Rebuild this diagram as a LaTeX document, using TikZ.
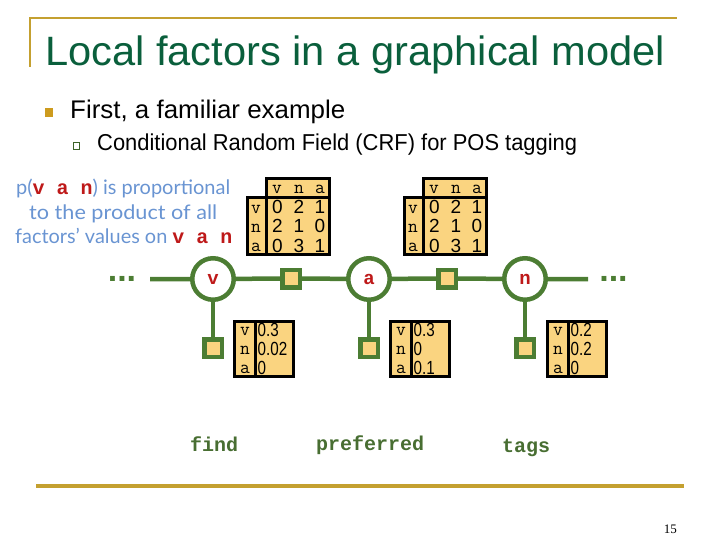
\documentclass[tikz,border=0pt]{standalone}
\usepackage{fontspec}
\usepackage{graphicx}
\setmainfont{Liberation Sans}
\newfontfamily\codefont{Liberation Mono}
\newfontfamily\handfont{Lato}
\newfontfamily\pagefont{Liberation Serif}
\definecolor{titlegreen}{RGB}{10,95,60}
\definecolor{gold}{RGB}{196,160,48}
\definecolor{bulletgold}{RGB}{205,155,30}
\definecolor{chain}{RGB}{76,125,51}
\definecolor{cellfill}{RGB}{250,212,128}
\definecolor{bluetxt}{RGB}{105,148,210}
\definecolor{redvar}{RGB}{190,25,25}
\definecolor{wordgreen}{RGB}{72,110,50}
\newcommand\rv[1]{{\codefont\bfseries\color{redvar}#1}}
\newcommand\pairtab[2]{%
\begin{scope}[shift={(#2,0)}]
\node[tabbox, minimum width=19.5pt, minimum height=56.5pt] (#1col) at (245.5,196.5) {};
\node[tabbox, minimum width=63pt, minimum height=56.5pt] (#1body) at (265,196.5) {};
\node[tabbox, minimum width=63pt, minimum height=19.5pt] (#1hdr) at (265,177) {};
\node[lab] (#1hv) at (277,194) {v};
\node[lab] (#1hn) at (299,194) {n};
\node[lab] (#1ha) at (320,194) {a};
\node[lab] (#1rv) at (256,213.5) {v};
\node[lab] (#1rn) at (256,232.5) {n};
\node[lab] (#1ra) at (256,251.5) {a};
\node[num] (#1c11) at (277.5,214) {0};
\node[num] (#1c12) at (299,214) {2};
\node[num] (#1c13) at (320,214) {1};
\node[num] (#1c21) at (277.5,233) {2};
\node[num] (#1c22) at (299,233) {1};
\node[num] (#1c23) at (320,233) {0};
\node[num] (#1c31) at (277.5,252) {0};
\node[num] (#1c32) at (299,252) {3};
\node[num] (#1c33) at (320,252) {1};
\end{scope}}
\newcommand\unitab[5]{%
\begin{scope}[shift={(#2,0)}]
\node[tabbox, minimum width=21pt, minimum height=55pt] (#1col) at (233,320) {};
\node[tabbox, minimum width=38pt, minimum height=55pt] (#1body) at (254,320) {};
\node[lab] (#1rv) at (245,335.5) {v};
\node[lab] (#1rn) at (245,354.5) {n};
\node[lab] (#1ra) at (245,373.5) {a};
\node[unum] (#1nv) at (257.5,336) {\scalebox{0.8}[1]{#3}};
\node[unum] (#1nn) at (257.5,355) {\scalebox{0.8}[1]{#4}};
\node[unum] (#1na) at (257.5,374) {\scalebox{0.8}[1]{#5}};
\end{scope}}
\begin{document}
\begin{tikzpicture}[x=1pt,y=-1pt,
  var/.style={circle, draw=chain, line width=4.5pt, fill=white, minimum size=41.5pt, inner sep=0pt,
    font=\codefont\bfseries\fontsize{19}{19}\selectfont, text=redvar},
  fac/.style={rectangle, draw=chain, line width=4.5pt, fill=cellfill, minimum size=17.5pt, inner sep=0pt},
  edge/.style={draw=chain, line width=4.5pt},
  tabbox/.style={draw=black, line width=3pt, fill=cellfill, inner sep=0pt, anchor=north west},
  lab/.style={inner sep=0pt, anchor=base, font=\ttfamily\fontsize{19}{19}\selectfont},
  num/.style={inner sep=0pt, anchor=base, font=\fontsize{19}{19}\selectfont},
  unum/.style={inner sep=0pt, anchor=base west, font=\fontsize{19}{19}\selectfont},
  word/.style={inner sep=0pt, anchor=base west, text=wordgreen, font=\codefont\bfseries\fontsize{20}{20}\selectfont},
  blue/.style={inner sep=0pt, anchor=base west, text=bluetxt, font=\handfont\fontsize{20}{20}\selectfont},
  dots/.style={inner sep=0pt, anchor=base, text=chain, font=\bfseries\fontsize{34}{34}\selectfont}
]
\useasboundingbox (0,0) rectangle (720,540);
% frame lines
\coordinate (tl) at (30,18.3);
\coordinate (tr) at (677,18.3);
\coordinate (tlb) at (30,67);
\coordinate (bl) at (36,486);
\coordinate (br) at (684,486);
\draw[gold, line width=2.2pt] (tlb) -- (tl) -- (tr);
\draw[gold, line width=3.5pt] (bl) -- (br);
% title and bullets
\node[inner sep=0pt, anchor=base west, text=titlegreen] (title) at (45,66)
  {\resizebox{620pt}{\height}{\fontsize{41}{41}\selectfont Local factors in a graphical model}};
\node[fill=bulletgold, minimum size=8.5pt, inner sep=0pt] (b1) at (49,112.5) {};
\node[inner sep=0pt, anchor=base west] (first) at (70,119)
  {\resizebox{275pt}{\height}{\fontsize{25.5}{25.5}\selectfont First, a familiar example}};
\node[draw=chain!80!black, fill=white, line width=1pt, minimum size=6.5pt, inner sep=0pt] (b2) at (76.5,146) {};
\node[inner sep=0pt, anchor=base west] (crf) at (97,150.5)
  {\resizebox{480pt}{\height}{\fontsize{23}{23}\selectfont Conditional Random Field (CRF) for POS tagging}};
% blue explanation
\node[blue] (exp1) at (16,195) {\resizebox{214pt}{\height}{p(\rv{v a n}) is proportional}};
\node[blue] (exp2) at (29,220) {\resizebox{188pt}{\height}{to the product of all}};
\node[blue] (exp3) at (15,243) {\resizebox{217pt}{\height}{factors’ values on \rv{v a n}}};
% pairwise tables
\pairtab{pa}{0}
\pairtab{pb}{157}
% chain
\coordinate (dl) at (150,279);
\coordinate (dr) at (588,279);
\node[dots] (dotsL) at (122,281.5) {...};
\node[dots] (dotsR) at (613.5,281.5) {...};
\node[var] (v) at (213,279) {v};
\node[fac] (f1) at (291,278.5) {};
\node[var] (a) at (369,279) {a};
\node[fac] (f2) at (447,278.5) {};
\node[var] (n) at (525,279) {n};
\node[fac] (u1) at (213,348) {};
\node[fac] (u2) at (369,348) {};
\node[fac] (u3) at (525,348) {};
\draw[edge] (dl) -- (v) -- (f1) -- (a) -- (f2) -- (n) -- (dr);
\draw[edge] (v) -- (u1);
\draw[edge] (a) -- (u2);
\draw[edge] (n) -- (u3);
% unary tables
\unitab{ua}{0}{0.3}{0.02}{0}
\unitab{ub}{156}{0.3}{0}{0.1}
\unitab{uc}{313}{0.2}{0.2}{0}
% words
\node[word] (w1) at (190,451) {find};
\node[word] (w2) at (316,450) {preferred};
\node[word] (w3) at (502,452) {tags};
% page number
\node[inner sep=0pt, anchor=base east, font=\pagefont\fontsize{13}{13}\selectfont] (pg) at (677,533) {15};
\end{tikzpicture}
\end{document}
